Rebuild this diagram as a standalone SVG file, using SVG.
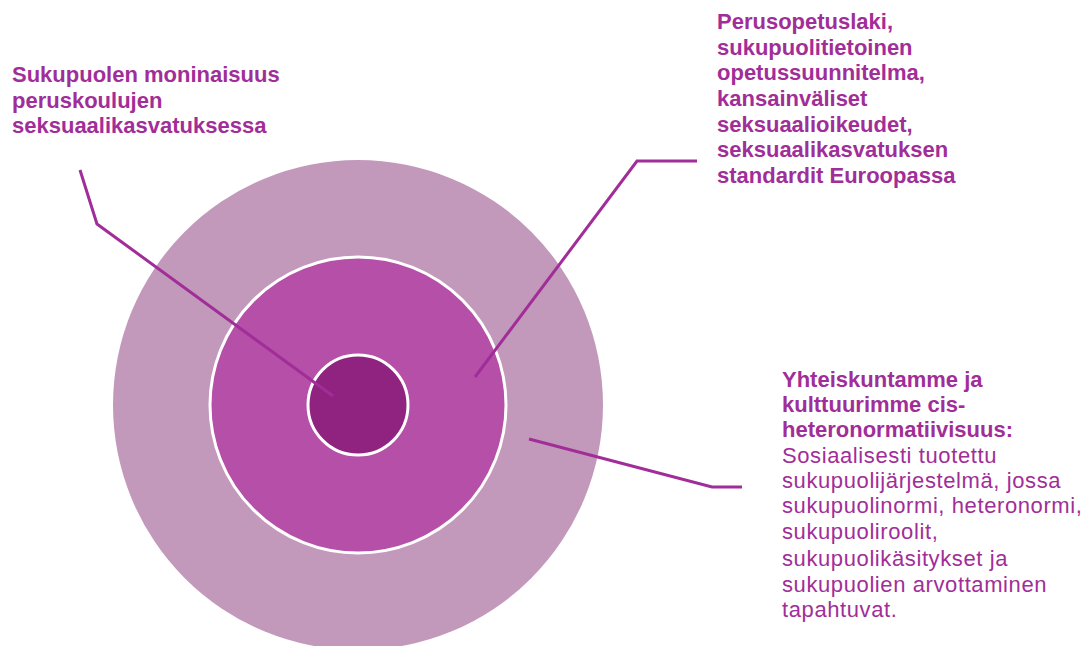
<svg xmlns="http://www.w3.org/2000/svg" width="1088" height="646" viewBox="0 0 1088 646">
<style>
.t{font-family:"Liberation Sans",Arial,sans-serif;font-size:22px;fill:#A12E98}
.b{font-weight:bold}
.r{letter-spacing:0.6px}
.c{fill:none;stroke:#A12E98;stroke-width:3;stroke-linejoin:miter}
</style>
<rect width="1088" height="646" fill="#ffffff"/>
<g id="outer"><circle cx="358" cy="405" r="245" fill="#C399BB"/></g>
<g id="middle"><circle cx="358" cy="405" r="148" fill="#B54FA8" stroke="#ffffff" stroke-width="3"/></g>
<g id="inner"><circle cx="358" cy="405" r="50" fill="#8F237F" stroke="#ffffff" stroke-width="3"/></g>
<g id="connectors">
<polyline class="c" points="80,170 97,224 333,396"/>
<polyline class="c" points="475,377 637,161 697,161"/>
<polyline class="c" points="529,439 712,487 742,487"/>
</g>
<g id="label-inner">
<text class="t b" x="12" y="82">Sukupuolen moninaisuus</text>
<text class="t b" x="12" y="108">peruskoulujen</text>
<text class="t b" x="12" y="133">seksuaalikasvatuksessa</text>
</g>
<g id="label-middle">
<text class="t b" x="717" y="29">Perusopetuslaki,</text>
<text class="t b" x="717" y="55">sukupuolitietoinen</text>
<text class="t b" x="717" y="80">opetussuunnitelma,</text>
<text class="t b" x="717" y="106">kansainväliset</text>
<text class="t b" x="717" y="132">seksuaalioikeudet,</text>
<text class="t b" x="717" y="157">seksuaalikasvatuksen</text>
<text class="t b" x="717" y="183">standardit Euroopassa</text>
</g>
<g id="label-outer">
<text class="t b" x="782" y="387">Yhteiskuntamme ja</text>
<text class="t b" x="782" y="412">kulttuurimme cis-</text>
<text class="t b" x="782" y="437">heteronormatiivisuus:</text>
<text class="t r" x="782" y="463">Sosiaalisesti tuotettu</text>
<text class="t r" x="782" y="488">sukupuolijärjestelmä, jossa</text>
<text class="t r" x="782" y="513">sukupuolinormi, heteronormi,</text>
<text class="t r" x="782" y="539">sukupuoliroolit,</text>
<text class="t r" x="782" y="566">sukupuolikäsitykset ja</text>
<text class="t r" x="782" y="592">sukupuolien arvottaminen</text>
<text class="t r" x="782" y="617">tapahtuvat.</text>
</g>
</svg>
